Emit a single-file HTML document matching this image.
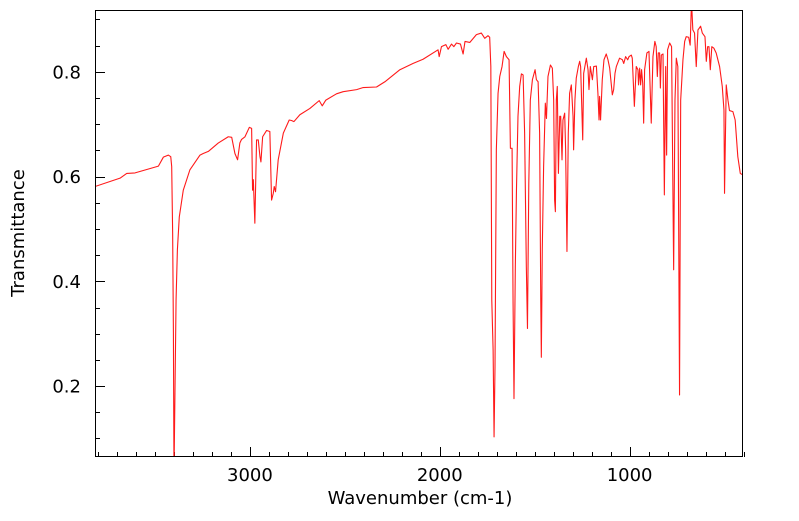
<!DOCTYPE html>
<html><head><meta charset="utf-8"><style>
html,body{margin:0;padding:0;background:#fff;}
svg text{font-family:"DejaVu Sans","Liberation Sans",sans-serif;fill:#000;}
</style></head><body>
<svg id="chart" width="799" height="516" viewBox="0 0 799 516" xmlns="http://www.w3.org/2000/svg">
<defs><clipPath id="pc"><rect x="95" y="10" width="647" height="447"/></clipPath></defs>
<g id="axes"></g>
<g id="plot" clip-path="url(#pc)"></g>
<rect x="95.5" y="10.5" width="647" height="446" fill="none" stroke="#000" stroke-width="1"/>
<text x="420" y="504" font-size="18" text-anchor="middle">Wavenumber (cm-1)</text>
<text x="24" y="233" font-size="18" text-anchor="middle" transform="rotate(-90 24 233)">Transmittance</text>
</svg>
<script>
const wavenumbers = [3816,3684,3649,3605,3500,3482,3456,3430,3417,3412,3407,3403,3400,3389,3382,3372,3351,3316,3263,3246,3219,3167,3114,3096,3079,3065,3053,3044,3026,3003,2991,2986,2982,2974,2965,2956,2947,2942,2933,2912,2895,2886,2877,2872,2865,2851,2824,2793,2781,2768,2737,2684,2635,2619,2600,2544,2509,2438,2403,2333,2289,2210,2140,2088,2009,2003,1991,1968,1956,1938,1926,1912,1891,1877,1867,1842,1807,1781,1763,1746,1737,1731,1726,1719,1714,1709,1702,1693,1684,1672,1661,1649,1635,1628,1619,1614,1609,1602,1596,1588,1579,1570,1561,1553,1544,1538,1531,1523,1512,1498,1491,1482,1474,1468,1465,1460,1453,1444,1438,1430,1417,1407,1400,1395,1391,1386,1381,1375,1368,1363,1356,1351,1342,1337,1330,1323,1316,1307,1298,1295,1288,1281,1270,1263,1258,1253,1247,1242,1228,1219,1214,1207,1196,1189,1175,1167,1161,1158,1153,1144,1135,1123,1114,1105,1091,1084,1077,1070,1053,1038,1031,1021,1010,1003,991,986,975,965,956,953,947,942,937,931,926,921,909,898,886,882,877,867,860,854,849,842,838,833,824,817,810,805,800,789,779,768,761,754,746,737,731,719,710,702,689,681,674,667,658,649,640,626,617,603,596,589,582,575,567,556,544,526,512,503,500,491,482,474,456,444,430,417,407];
const transmittance = [0.581,0.597,0.606,0.607,0.618,0.620,0.637,0.641,0.638,0.619,0.492,0.301,0.030,0.364,0.460,0.523,0.574,0.613,0.641,0.644,0.648,0.664,0.676,0.675,0.644,0.632,0.664,0.671,0.676,0.694,0.692,0.574,0.594,0.511,0.670,0.670,0.638,0.628,0.676,0.688,0.686,0.555,0.568,0.581,0.571,0.632,0.683,0.708,0.707,0.705,0.718,0.730,0.745,0.735,0.746,0.758,0.762,0.766,0.770,0.771,0.781,0.804,0.816,0.824,0.842,0.829,0.848,0.852,0.843,0.853,0.848,0.855,0.853,0.834,0.858,0.856,0.871,0.874,0.864,0.869,0.866,0.810,0.364,0.269,0.103,0.237,0.651,0.759,0.791,0.810,0.839,0.829,0.823,0.654,0.654,0.364,0.176,0.428,0.574,0.715,0.772,0.796,0.794,0.683,0.428,0.310,0.587,0.746,0.785,0.804,0.785,0.781,0.683,0.364,0.255,0.460,0.619,0.740,0.711,0.791,0.813,0.807,0.746,0.555,0.533,0.746,0.772,0.606,0.715,0.715,0.632,0.708,0.721,0.651,0.457,0.683,0.759,0.775,0.715,0.651,0.746,0.788,0.810,0.820,0.810,0.746,0.670,0.797,0.826,0.804,0.766,0.810,0.785,0.810,0.811,0.759,0.708,0.753,0.708,0.785,0.823,0.834,0.823,0.807,0.756,0.766,0.797,0.810,0.826,0.823,0.816,0.829,0.823,0.829,0.832,0.826,0.734,0.810,0.804,0.775,0.807,0.775,0.804,0.778,0.702,0.804,0.836,0.839,0.702,0.759,0.829,0.858,0.848,0.791,0.836,0.836,0.769,0.832,0.834,0.565,0.810,0.641,0.842,0.855,0.848,0.422,0.746,0.826,0.810,0.183,0.746,0.823,0.858,0.867,0.866,0.851,0.935,0.880,0.874,0.810,0.880,0.887,0.874,0.867,0.820,0.848,0.848,0.804,0.848,0.845,0.836,0.810,0.772,0.727,0.568,0.775,0.746,0.726,0.724,0.708,0.638,0.606,0.604];
const xTickLabels = [3000,2000,1000];
const yTickLabels = [0.2,0.4,0.6,0.8];

const L=95,R=742,T=10,B=457;
const xMax=3816,xMin=408,yMin=0.0646,yMax=0.918;
const xs=w=>L+(xMax-w)/(xMax-xMin)*(R-L);
const ys=v=>B-(v-yMin)/(yMax-yMin)*(B-T);
const NS="http://www.w3.org/2000/svg";
const axes=document.getElementById('axes');
const plot=document.getElementById('plot');
function mk(tag,attrs,parent){const e=document.createElementNS(NS,tag);for(const k in attrs)e.setAttribute(k,attrs[k]);parent.appendChild(e);return e;}

for(let w=3800;w>=400;w-=100){
  const x=Math.round(xs(w))+0.5;const major=w%1000===0;
  const t=mk('line',{x1:x,x2:x,y1:B,y2:B-(major?10:5),stroke:'#000','stroke-width':1},axes);
  
  
}
xTickLabels.forEach(v=>{
  const t=mk('text',{x:xs(v),y:481,'font-size':18,'text-anchor':'middle'},axes);
  t.textContent=v;
  
  
});
for(let v=0.1;v<=0.91;v+=0.05){
  const y=Math.round(ys(v))+0.5;const major=Math.abs(v*10-Math.round(v*10))<1e-6&&Math.round(v*10)%2===0;
  const t=mk('line',{x1:L,x2:L+(major?10:5),y1:y,y2:y,stroke:'#000','stroke-width':1},axes);
  
  
}
yTickLabels.forEach(v=>{
  const t=mk('text',{x:81,y:ys(v)+6.5,'font-size':18,'text-anchor':'end'},axes);
  t.textContent=v.toFixed(1);
  
  
});
let d='';
wavenumbers.forEach((w,i)=>{d+=(i?'L':'M')+xs(w).toFixed(2)+','+ys(transmittance[i]).toFixed(2);});
const line=mk('path',{d:d,fill:'none',stroke:'#ff1a1a','stroke-width':1.1,'stroke-linejoin':'round'},plot);


</script>
</body></html>
